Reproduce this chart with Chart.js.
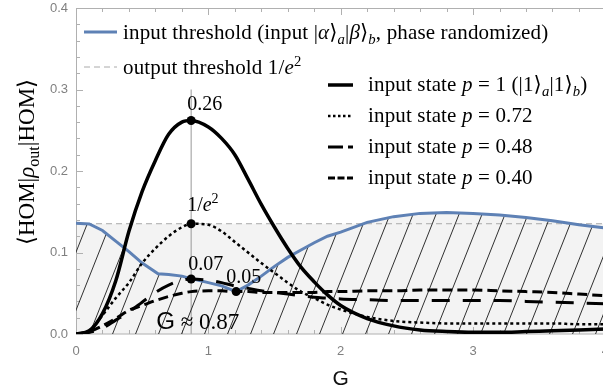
<!DOCTYPE html>
<html>
<head>
<meta charset="utf-8">
<script src="https://cdn.jsdelivr.net/npm/chart.js@4.4.1/dist/chart.umd.min.js"></script>
<style>
  html, body { margin: 0; padding: 0; background: #fff; overflow: hidden; }
  #wrap { width: 619px; height: 392px; }
</style>
</head>
<body>
<div id="wrap"><canvas id="homChart" width="619" height="392"></canvas></div>
<script>
// gain G sampled for the four input states
const G = [0, 0.1, 0.2, 0.3, 0.4, 0.5, 0.6, 0.7, 0.8, 0.87, 1.0, 1.1, 1.2, 1.3, 1.4, 1.5, 1.6, 1.7, 1.8, 1.9, 2.0, 2.2, 2.4, 2.6, 2.8, 3.0, 3.2, 3.4, 3.6, 3.8, 4.0];
const stateP1   = [0, 0.004, 0.025, 0.065, 0.126, 0.175, 0.213, 0.245, 0.260, 0.262, 0.254, 0.240, 0.220, 0.190, 0.159, 0.131, 0.105, 0.082, 0.064, 0.048, 0.035, 0.019, 0.010, 0.005, 0.003, 0.002, 0.002, 0.003, 0.004, 0.005, 0.006];
const stateP072 = [0, 0.004, 0.023, 0.044, 0.063, 0.087, 0.105, 0.120, 0.131, 0.1353, 0.134, 0.126, 0.113, 0.100, 0.087, 0.075, 0.063, 0.052, 0.044, 0.036, 0.030, 0.021, 0.016, 0.014, 0.013, 0.013, 0.013, 0.013, 0.013, 0.012, 0.012];
const stateP048 = [0, 0.002, 0.007, 0.017, 0.027, 0.039, 0.051, 0.060, 0.066, 0.0675, 0.066, 0.063, 0.059, 0.056, 0.053, 0.051, 0.049, 0.047, 0.045, 0.044, 0.043, 0.042, 0.041, 0.041, 0.041, 0.041, 0.041, 0.040, 0.039, 0.038, 0.037];
const stateP040 = [0, 0.003, 0.010, 0.019, 0.029, 0.035, 0.041, 0.046, 0.050, 0.052, 0.053, 0.053, 0.052, 0.052, 0.051, 0.051, 0.051, 0.051, 0.051, 0.052, 0.052, 0.053, 0.053, 0.054, 0.054, 0.054, 0.053, 0.052, 0.051, 0.049, 0.047];

// input threshold (coherent input, phase randomized)
const thresholdG   = [0, 0.1, 0.2, 0.3, 0.4, 0.5, 0.62, 0.7, 0.8, 0.87, 1.0, 1.1, 1.21, 1.3, 1.4, 1.5, 1.6, 1.7, 1.8, 1.9, 2.0, 2.2, 2.4, 2.6, 2.8, 3.0, 3.2, 3.4, 3.6, 3.8, 4.0];
const thresholdVal = [0.136, 0.135, 0.127, 0.114, 0.101, 0.087, 0.074, 0.073, 0.071, 0.068, 0.063, 0.059, 0.052, 0.060, 0.071, 0.083, 0.094, 0.103, 0.112, 0.120, 0.125, 0.137, 0.144, 0.148, 0.149, 0.148, 0.146, 0.143, 0.139, 0.134, 0.130];

// output threshold 1/e^2
const outputG = [0, 4];
const outputVal = [0.1353, 0.1353];

// marked points at G ~ 0.87 and the minimum of the input threshold
const markG = [0.87, 0.87, 0.87, 1.21];
const markVal = [0.262, 0.1353, 0.0675, 0.052];
const markLine = [0, 0.3];

const yTicks = [0, 0.1, 0.2, 0.3, 0.4];
const xTicks = [0, 1, 2, 3, 4];

// text runs: t = text, it = italic, sub / sup, sans
const markLabels = [
    [{t: '0.26'}],
    [{t: '1/'}, {t: 'e', it: 1}, {t: '2', sup: 1}],
    [{t: '0.07'}],
    [{t: '0.05'}]
];
const gLabel = [{t: 'G', sans: 1}, {t: ' \u2248 0.87'}];
const yTitle = [{t: '\u27e8HOM|'}, {t: '\u03c1', it: 1}, {t: 'out', sub: 1}, {t: '|HOM\u27e9'}];
const legendTop = [
    [{t: 'input threshold (input |'}, {t: '\u03b1', it: 1}, {t: '\u27e9'}, {t: 'a', it: 1, sub: 1}, {t: '|'}, {t: '\u03b2', it: 1}, {t: '\u27e9'}, {t: 'b', it: 1, sub: 1}, {t: ', phase randomized)'}],
    [{t: 'output threshold 1/'}, {t: 'e', it: 1}, {t: '2', sup: 1}]
];
const legendStates = [
    [{t: 'input state '}, {t: 'p', it: 1}, {t: ' = 1 (|1\u27e9'}, {t: 'a', it: 1, sub: 1}, {t: '|1\u27e9'}, {t: 'b', it: 1, sub: 1}, {t: ')'}],
    [{t: 'input state '}, {t: 'p', it: 1}, {t: ' = 0.72'}],
    [{t: 'input state '}, {t: 'p', it: 1}, {t: ' = 0.48'}],
    [{t: 'input state '}, {t: 'p', it: 1}, {t: ' = 0.40'}]
];

const SERIF = '"Liberation Serif", "DejaVu Serif", serif';
const SANS = '"Liberation Sans", "DejaVu Sans", sans-serif';
const BLUE = '#5e81b5';

const pts = (xs, ys) => xs.map((x, i) => ({x: x, y: ys[i]}));

const canvas = document.getElementById('homChart');
const ctx = canvas.getContext('2d');

// hatch pattern for the area under the input threshold
const tile = document.createElement('canvas');
tile.width = 23;
tile.height = 58;
const tctx = tile.getContext('2d');
tctx.strokeStyle = '#1a1a1a';
tctx.lineWidth = 0.9;
[-23, 0, 23].forEach((dx) =>
{
    tctx.beginPath();
    tctx.moveTo(dx, 58);
    tctx.lineTo(dx + 23, 0);
    tctx.stroke();
});
const hatch = ctx.createPattern(tile, 'repeat');
hatch.setTransform(new DOMMatrix().translate(15, 0));

const drawRuns = (c, runs, x, y, size, spacing) =>
{
    c.letterSpacing = (spacing || 0) + 'px';
    runs.forEach((r) =>
    {
        const small = r.sub || r.sup;
        const s = small ? size * 0.7 : (r.sans ? size * 1.05 : size);
        c.font = (r.it ? 'italic ' : '') + s + 'px ' + (r.sans ? SANS : SERIF);
        const dy = r.sub ? size * 0.22 : (r.sup ? -size * 0.4 : 0);
        c.fillText(r.t, x, y + dy);
        x += c.measureText(r.t).width;
    });
    c.letterSpacing = '0px';
    return x;
};

const runsWidth = (c, runs, size) =>
{
    let w = 0;
    runs.forEach((r) =>
    {
        const small = r.sub || r.sup;
        const s = small ? size * 0.7 : size;
        c.font = (r.it ? 'italic ' : '') + s + 'px ' + (r.sans ? SANS : SERIF);
        w += c.measureText(r.t).width;
    });
    return w;
};

const sampleLine = (c, x, y, len, color, width, dash) =>
{
    c.save();
    c.strokeStyle = color;
    c.lineWidth = width;
    c.setLineDash(dash);
    c.beginPath();
    c.moveTo(x, y);
    c.lineTo(x + len, y);
    c.stroke();
    c.restore();
};

// frame with inward ticks + text that sits under the hatch
const underHatch = {
    id: 'underHatch',
    afterDatasetDraw(chart, args)
    {
        if(chart.data.datasets[args.index].label !== 'marker line') return;
        const c = chart.ctx;
        const xs = chart.scales.x;
        const ys = chart.scales.y;
        const a = chart.chartArea;
        c.save();
        c.strokeStyle = '#b0b0b0';
        c.lineWidth = 1;
        c.strokeRect(a.left + 0.5, a.top + 0.5, a.right - a.left, a.bottom - a.top - 0.5);
        c.beginPath();
        for(let i = 0; i <= 20; i++)
        {
            const px = Math.round(xs.getPixelForValue(i * 0.2)) + 0.5;
            const len = i % 5 === 0 ? 7 : 4;
            c.moveTo(px, a.bottom);
            c.lineTo(px, a.bottom - len);
            c.moveTo(px, a.top);
            c.lineTo(px, a.top + len);
        }
        for(let i = 0; i <= 20; i++)
        {
            const py = Math.round(ys.getPixelForValue(i * 0.02)) + 0.5;
            const len = i % 5 === 0 ? 7 : 4;
            c.moveTo(a.left, py);
            c.lineTo(a.left + len, py);
        }
        c.stroke();

        c.fillStyle = '#000';
        c.textBaseline = 'alphabetic';
        drawRuns(c, gLabel, xs.getPixelForValue(markG[0]) - 35, ys.getPixelForValue(0) - 5, 23);
        c.restore();
    }
};

// labels, legend and y title on top
const overlay = {
    id: 'overlay',
    afterDatasetsDraw(chart)
    {
        const c = chart.ctx;
        const xs = chart.scales.x;
        const ys = chart.scales.y;
        c.save();
        c.fillStyle = '#000';
        c.textBaseline = 'alphabetic';

        const offs = [[-4, -10], [-4, -13], [-3, -9], [-10, -9]];
        markLabels.forEach((runs, i) =>
        {
            const px = xs.getPixelForValue(markG[i]);
            const py = ys.getPixelForValue(markVal[i]);
            drawRuns(c, runs, px + offs[i][0], py + offs[i][1], 20);
        });

        // legend, top left
        sampleLine(c, 84, 32, 33, BLUE, 3, []);
        drawRuns(c, legendTop[0], 123, 39, 21, 0.15);
        sampleLine(c, 84, 67, 33, '#aaa', 1, [6, 4]);
        drawRuns(c, legendTop[1], 123, 74, 21, 0.15);

        // legend, input states
        const styles = [
            {w: 3.5, d: []},
            {w: 2.5, d: [2.5, 2.5]},
            {w: 3, d: [15, 5]},
            {w: 3, d: [7, 2.5]}
        ];
        legendStates.forEach((runs, i) =>
        {
            const y = 85 + i * 31;
            sampleLine(c, 328, y, 25, '#000', styles[i].w, styles[i].d);
            drawRuns(c, runs, 368, y + 6, 21, 0.15);
        });

        // y axis title
        c.translate(34, 162);
        c.rotate(-Math.PI / 2);
        const w = runsWidth(c, yTitle, 23);
        drawRuns(c, yTitle, -w / 2, 0, 23);
        c.restore();
    }
};

const chart = new Chart(ctx,
{
    type: 'line',
    data: {
        datasets: [
            {
                label: 'marks',
                data: pts(markG, markVal),
                showLine: false,
                pointRadius: 4.5,
                pointBackgroundColor: '#000',
                pointBorderWidth: 0,
                order: 0
            },
            {
                label: 'input state p = 1',
                data: pts(G, stateP1),
                borderColor: '#000',
                borderWidth: 3.5,
                pointRadius: 0,
                cubicInterpolationMode: 'monotone',
                order: 1
            },
            {
                label: 'input state p = 0.72',
                data: pts(G, stateP072),
                borderColor: '#000',
                borderWidth: 2.5,
                borderDash: [3, 3],
                pointRadius: 0,
                cubicInterpolationMode: 'monotone',
                order: 2
            },
            {
                label: 'input state p = 0.48',
                data: pts(G, stateP048),
                borderColor: '#000',
                borderWidth: 3,
                borderDash: [18, 13],
                pointRadius: 0,
                cubicInterpolationMode: 'monotone',
                order: 3
            },
            {
                label: 'input state p = 0.40',
                data: pts(G, stateP040),
                borderColor: '#000',
                borderWidth: 3,
                borderDash: [10, 5],
                pointRadius: 0,
                cubicInterpolationMode: 'monotone',
                order: 4
            },
            {
                label: 'input threshold',
                data: pts(thresholdG, thresholdVal),
                borderColor: BLUE,
                borderWidth: 3,
                pointRadius: 0,
                tension: 0,
                fill: 'origin',
                backgroundColor: hatch,
                order: 5
            },
            {
                label: 'marker line',
                data: pts([markG[0], markG[0]], markLine),
                borderColor: '#999',
                borderWidth: 1,
                pointRadius: 0,
                order: 6
            },
            {
                label: 'output threshold',
                data: pts(outputG, outputVal),
                borderColor: '#aaa',
                borderWidth: 1,
                borderDash: [6, 4],
                pointRadius: 0,
                fill: 'origin',
                backgroundColor: '#f3f3f3',
                order: 7
            },
            {
                label: 'threshold shade',
                data: pts(thresholdG, thresholdVal),
                borderWidth: 0,
                borderColor: 'rgba(0,0,0,0)',
                pointRadius: 0,
                tension: 0,
                fill: 'origin',
                backgroundColor: '#f3f3f3',
                order: 8
            }
        ]
    },
    options: {
        responsive: false,
        animation: false,
        devicePixelRatio: 1,
        layout: { padding: { top: 8, right: 0, left: 0, bottom: 0 } },
        plugins: {
            legend: { display: false },
            tooltip: { enabled: false }
        },
        scales: {
            x: {
                type: 'linear',
                min: 0,
                max: 4,
                afterBuildTicks: (s) => { s.ticks = xTicks.map((v) => ({value: v})); },
                ticks: {
                    color: '#808080',
                    font: { family: SANS, size: 13 },
                    padding: 10,
                    callback: (v) => v.toString()
                },
                grid: { display: false, drawTicks: false },
                border: { display: false },
                title: {
                    display: true,
                    text: 'G',
                    color: '#111',
                    font: { family: SANS, size: 21 },
                    padding: { top: 0, bottom: 0 }
                },
                afterFit: (s) => { s.height = 58; }
            },
            y: {
                min: 0,
                max: 0.4,
                afterBuildTicks: (s) => { s.ticks = yTicks.map((v) => ({value: v})); },
                ticks: {
                    color: '#808080',
                    font: { family: SANS, size: 13 },
                    padding: 8,
                    callback: (v) => v.toFixed(1)
                },
                grid: { display: false, drawTicks: false },
                border: { display: false },
                afterFit: (s) =>
                {
                    s.width = 76;
                    s.paddingTop = 0;
                    s.paddingBottom = 0;
                }
            }
        }
    },
    plugins: [underHatch, overlay]
});
</script>
</body>
</html>
